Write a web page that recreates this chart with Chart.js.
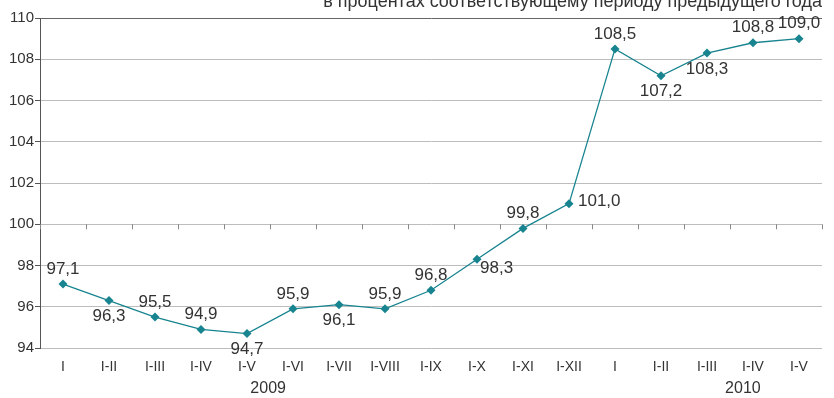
<!DOCTYPE html>
<html>
<head>
<meta charset="utf-8">
<script src="https://cdn.jsdelivr.net/npm/chart.js@4"></script>
<style>
  html,body{margin:0;padding:0;background:#fff;}
  #wrap{width:834px;height:398px;}
</style>
</head>
<body>
<div id="wrap"><canvas id="chart" width="834" height="398"></canvas></div>
<script>
// data
const periods = ['I','I-II','I-III','I-IV','I-V','I-VI','I-VII','I-VIII','I-IX','I-X','I-XI','I-XII','I','I-II','I-III','I-IV','I-V'];
const values = [97.1,96.3,95.5,94.9,94.7,95.9,96.1,95.9,96.8,98.3,99.8,101.0,108.5,107.2,108.3,108.8,109.0];
const yTicks = [94,96,98,100,102,104,106,108,110];
const years = ['2009','2010'];
const yearAt = [4.46,14.78];           // category index under which the year sits
const subtitle = 'в процентах соответствующему периоду предыдущего года';

// where each value label goes relative to its point
const labelPos = ['top','bottom','top','top','bottom','top','bottom','top','top','right-down','top','right','top','bottom','bottom','top','top'];

const teal = '#17848f';
const FONT = '"Liberation Sans", Arial, sans-serif';
const fmt = v => v.toFixed(1).replace('.', ',');

const extras = {
  id:'extras',
  afterDatasetsDraw(chart){
    const {ctx, scales:{x,y}, chartArea} = chart;
    ctx.save();
    // small ticks on the 100 line at category boundaries
    const y100 = y.getPixelForValue(100);
    ctx.strokeStyle = '#888';
    ctx.lineWidth = 1;
    for(let i=0;i<=periods.length;i++){
      const px = Math.round(x.getPixelForValue(i-0.5))+0.5;
      ctx.beginPath(); ctx.moveTo(px,y100); ctx.lineTo(px,y100+5); ctx.stroke();
    }
    // value labels
    ctx.fillStyle = '#333';
    ctx.font = '17px ' + FONT;
    const meta = chart.getDatasetMeta(0);
    meta.data.forEach((pt,i)=>{
      const t = fmt(values[i]);
      const p = labelPos[i];
      ctx.textBaseline = 'middle';
      if(p==='top'){ ctx.textAlign='center'; ctx.fillText(t, pt.x, pt.y-15); }
      else if(p==='bottom'){ ctx.textAlign='center'; ctx.fillText(t, pt.x, pt.y+16); }
      else if(p==='right'){ ctx.textAlign='left'; ctx.fillText(t, pt.x+9, pt.y-2); }
      else { ctx.textAlign='left'; ctx.fillText(t, pt.x+3, pt.y+9); }
    });
    // years under the axis
    ctx.font = '16px ' + FONT;
    ctx.textAlign = 'center';
    years.forEach((yr,i)=> ctx.fillText(yr, x.getPixelForValue(yearAt[i]), 389));
    // subtitle, clipped at the top edge
    ctx.font = '18px ' + FONT;
    ctx.textAlign = 'right';
    ctx.textBaseline = 'alphabetic';
    ctx.fillText(subtitle, chartArea.right, 7);
    ctx.restore();
  }
};

new Chart(document.getElementById('chart'), {
  type:'line',
  data:{
    labels: periods,
    datasets:[{
      data: values,
      borderColor: teal,
      backgroundColor: teal,
      borderWidth: 1.3,
      pointStyle: 'rectRot',
      pointRadius: 4.5,
      pointBorderWidth: 0,
      tension: 0
    }]
  },
  options:{
    responsive:false,
    animation:false,
    layout:{padding:{top:18,right:12,left:0,bottom:0}},
    plugins:{legend:{display:false},tooltip:{enabled:false}},
    scales:{
      x:{
        offset:true,
        grid:{display:false},
        border:{display:false},
        ticks:{color:'#333',font:{size:14,family:FONT},padding:3,maxRotation:0,autoSkip:false},
        afterFit(s){ s.height = 50; }
      },
      y:{
        min:94,max:110,
        afterBuildTicks(s){ s.ticks = yTicks.map(v=>({value:v})); },
        grid:{
          color: c => c.tick && c.tick.value===110 ? '#666' : '#bdbdbd',
          tickColor:'#555',
          tickLength:5,
          lineWidth:1
        },
        border:{color:'#555',width:1},
        ticks:{color:'#333',font:{size:15,family:FONT},padding:1},
        afterFit(s){ s.width = 40; }
      }
    }
  },
  plugins:[extras]
});
</script>
</body>
</html>
